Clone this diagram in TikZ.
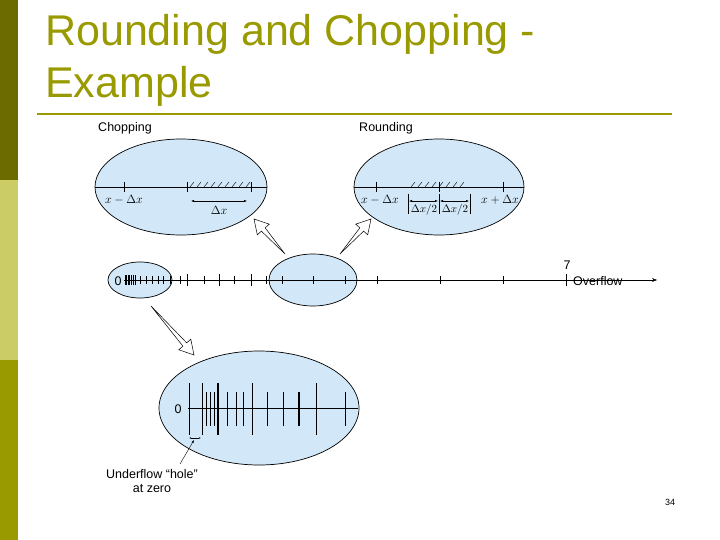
\documentclass[tikz,border=0pt]{standalone}
\usepackage{fontspec}
\setmainfont{Liberation Sans}
\usetikzlibrary{arrows.meta,calc}
\definecolor{olv}{HTML}{999900}
\definecolor{olvd}{HTML}{6B6B00}
\definecolor{olvl}{HTML}{CCCC66}
\definecolor{blu}{HTML}{D2E8F8}
\tikzset{ell/.style={draw,fill=blu,line width=0.7pt},
 lbl/.style={font=\fontsize{12.5}{14}\selectfont,inner sep=0pt},
 mth/.style={font=\fontsize{12}{13}\selectfont\rmfamily,inner sep=0pt},
 tk/.style={line width=0.5pt},
 hollow/.style={draw,fill=white,line width=0.5pt}}
\newcommand{\harrow}[2]{% from to (named coordinates)
 \coordinate (hh) at ($(#2)!14pt!(#1)$);
 \draw[hollow] (#1) -- ($(hh)!2.5pt!90:(#2)$) -- ($(hh)!8pt!90:(#2)$) -- (#2) -- ($(hh)!8pt!-90:(#2)$) -- ($(hh)!2.5pt!-90:(#2)$) -- cycle;}
\begin{document}
\begin{tikzpicture}[x=1pt,y=-1pt]
\useasboundingbox (0,0) rectangle (720,540);
\fill[olvd] (0,0) rectangle (18,180);
\fill[olvl] (0,180) rectangle (18,360);
\fill[olv] (0,360) rectangle (18,540);
\node[anchor=west,text=olv,font=\fontsize{43}{52}\selectfont,align=left,inner sep=0pt] (title) at (45,60) {Rounding and Chopping -\\Example};
\draw[olv,line width=2.5pt] (37,114) -- (672,114);
% chopping
\node[lbl] (chl) at (125,128) {Chopping};
\draw[ell] (181,187) ellipse (86 and 48);
\draw[tk] (95,187) -- (267,187);
\foreach \x in {124,187,251} \draw[tk] (\x,182) -- (\x,192);
\foreach \x in {190,197,...,248} \draw[line width=0.4pt] (\x,187) -- (\x+4,182);
\node[mth] (c1) at (124,200) {$x-\Delta x$};
\draw[{Latex[length=3pt]}-{Latex[length=3pt]},line width=0.4pt] (191,201) -- (247,201);
\node[mth] (c2) at (219,210) {$\Delta x$};
% rounding
\node[lbl] (rol) at (386,128) {Rounding};
\draw[ell] (439,187) ellipse (85 and 48);
\draw[tk] (354,187) -- (524,187);
\foreach \x in {376,439,503} \draw[tk] (\x,182) -- (\x,192);
\foreach \x in {411,418,...,465} \draw[line width=0.4pt] (\x,187) -- (\x+4,182);
\node[mth] (r1) at (380,200) {$x-\Delta x$};
\node[mth] (r2) at (500,200) {$x+\Delta x$};
\foreach \x in {408,439,470} \draw[tk] (\x,194) -- (\x,214);
\draw[{Latex[length=3pt]}-{Latex[length=3pt]},line width=0.4pt] (409,201) -- (438,201);
\draw[{Latex[length=3pt]}-{Latex[length=3pt]},line width=0.4pt] (440,201) -- (469,201);
\node[mth,font=\fontsize{11}{12}\selectfont\rmfamily] (r3) at (424,210) {$\Delta x/2$};
\node[mth,font=\fontsize{11}{12}\selectfont\rmfamily] (r4) at (455,210) {$\Delta x/2$};
% main line
\draw[ell] (140,280) ellipse (32 and 18);
\draw[ell] (313,280) ellipse (44 and 26);
\coordinate (ms) at (124,280);
\coordinate (me) at (657,280);
\draw[-{Stealth[length=5pt]},line width=0.4pt] (ms) -- (me);
\node[lbl] (zero) at (118,281) {0};
\foreach \x in {125,126.5,128,129.5,131,133,135} \draw[line width=0.4pt] (\x,275) -- (\x,285);
\foreach \x in {140,146,152,158,163,170,180,204,234,266,282,313,345,377,440,503,566} \draw[line width=0.4pt] (\x,276) -- (\x,284);
\foreach \x in {187,219,251} \draw[line width=0.9pt] (\x,274) -- (\x,286);
\node[lbl] (seven) at (567,265) {7};
\draw[line width=0.4pt] (566,274) -- (566,286);
\node[lbl,anchor=west] (ovf) at (573,281) {Overflow};
% hollow arrows
\coordinate (a1s) at (285,254); \coordinate (a1e) at (254,219);
\coordinate (a2s) at (340,254); \coordinate (a2e) at (371,219);
\coordinate (a3s) at (151,306); \coordinate (a3e) at (194,355);
\harrow{a1s}{a1e}
\harrow{a2s}{a2e}
\harrow{a3s}{a3e}
% zoom ellipse
\draw[ell] (259,408) ellipse (100 and 57);
\draw[tk] (188,408) -- (358,408);
\node[lbl] (z0) at (178,409) {0};
\foreach \x/\w/\t in {189/0.5/383,202/0.5/383,206/1/392,210/1/392,214/1/392,218/1.2/383,227/0.4/392,236/0.4/392,243/0.5/392,252/0.8/383,267/1/392,283/0.5/392,299/1.2/392,316/0.5/383,345/0.5/392}
  \draw[line width=\w pt] (\x,\t) -- (\x,818-\t);
\draw[{Latex[length=2pt]}-{Latex[length=2pt]},line width=0.4pt] (189,438) -- (201,438);
\coordinate (hp) at (194,440);
\node[lbl,align=center] (uf) at (152,481) {Underflow “hole”\\at zero};
\coordinate (ps) at (180,464);
\draw[-{Latex[length=3pt]},line width=0.4pt] (ps) -- (hp);
\node[font=\fontsize{9}{10}\selectfont] (pg) at (670,502) {34};
\end{tikzpicture}
\end{document}
